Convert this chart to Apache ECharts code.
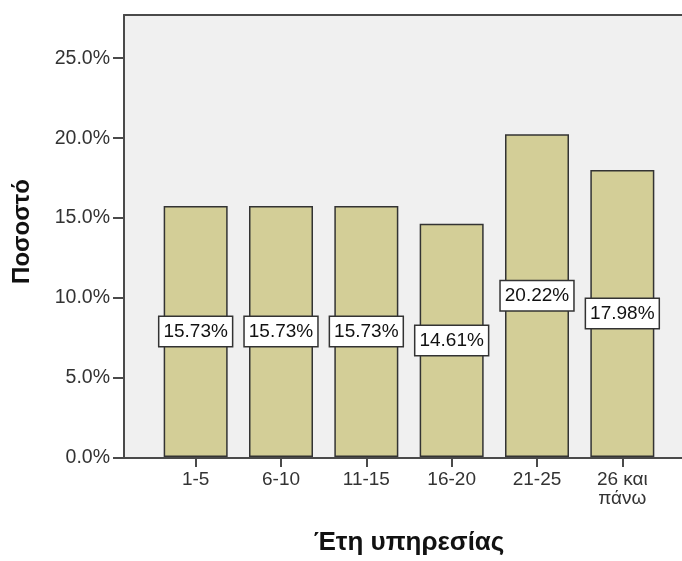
<!DOCTYPE html>
<html>
<head>
<meta charset="utf-8">
<script src="https://cdn.jsdelivr.net/npm/echarts@6/dist/echarts.min.js"></script>
<style>
  html, body { margin: 0; padding: 0; background: #ffffff; }
  #chart { width: 682px; height: 561px; }
</style>
</head>
<body>
<div id="chart"></div>
<script>
// Years of service groups and their share of respondents (%)
const categories = ['1-5', '6-10', '11-15', '16-20', '21-25', '26 και\nπάνω'];
const percentages = [15.73, 15.73, 15.73, 14.61, 20.22, 17.98];
const yTicks = [0, 5, 10, 15, 20, 25];

const FONT = '"Liberation Sans", Arial, sans-serif';
const AXIS_COLOR = '#4a4a4a';
const Y_MAX = 27.7;

const chart = echarts.init(document.getElementById('chart'), null, { renderer: 'canvas' });

const frameLine = { show: true, lineStyle: { color: AXIS_COLOR, width: 2 } };

chart.setOption({
  animation: false,
  backgroundColor: '#ffffff',
  grid: [
    // frame: grey plot area, open on the right
    { left: 124, right: 0, top: 15, bottom: 103, show: true,
      backgroundColor: '#f0f0f0', borderWidth: 0 },
    // bars
    { left: 153, width: 512, top: 15, bottom: 103 }
  ],
  xAxis: [
    { gridIndex: 0, type: 'value', min: 0, max: 1, position: 'bottom',
      axisLine: frameLine, axisTick: { show: false }, axisLabel: { show: false }, splitLine: { show: false } },
    { gridIndex: 0, type: 'value', min: 0, max: 1, position: 'top',
      axisLine: frameLine, axisTick: { show: false }, axisLabel: { show: false }, splitLine: { show: false } },
    { gridIndex: 1, type: 'category', data: categories,
      axisLine: { show: false },
      axisTick: { show: true, alignWithLabel: true, length: 10, lineStyle: { color: AXIS_COLOR, width: 2 } },
      axisLabel: { fontFamily: FONT, fontSize: 19, color: '#333', margin: 13, lineHeight: 19 },
      name: 'Έτη υπηρεσίας', nameLocation: 'middle', nameGap: 73,
      nameTextStyle: { fontFamily: FONT, fontSize: 26, fontWeight: 'bold', color: '#111' } }
  ],
  yAxis: [
    { gridIndex: 0, type: 'value', min: 0, max: Y_MAX, interval: 5,
      axisLine: frameLine,
      axisTick: { show: true, length: 11, customValues: yTicks, lineStyle: { color: AXIS_COLOR, width: 2 } },
      axisLabel: { customValues: yTicks, fontFamily: FONT, fontSize: 19.5, color: '#333', margin: 14,
        formatter: v => v.toFixed(1) + '%' },
      splitLine: { show: false },
      name: 'Ποσοστό', nameLocation: 'middle', nameGap: 90, nameRotate: 90,
      nameTextStyle: { fontFamily: FONT, fontSize: 24, fontWeight: 'bold', color: '#111',
        padding: [0, 0, 0, 10] } },
    { gridIndex: 1, type: 'value', min: 0, max: Y_MAX, show: false }
  ],
  series: [{
    type: 'bar',
    xAxisIndex: 2,
    yAxisIndex: 1,
    data: percentages,
    barWidth: 64,
    itemStyle: { color: '#d3ce97', borderColor: '#333333', borderWidth: 1.5 },
    label: {
      show: true,
      position: 'inside',
      formatter: p => p.value.toFixed(2) + '%',
      fontFamily: FONT, fontSize: 19, color: '#111',
      backgroundColor: '#ffffff', borderColor: '#333333', borderWidth: 1.5,
      padding: [5, 4, 5, 4]
    }
  }]
});
</script>
</body>
</html>
